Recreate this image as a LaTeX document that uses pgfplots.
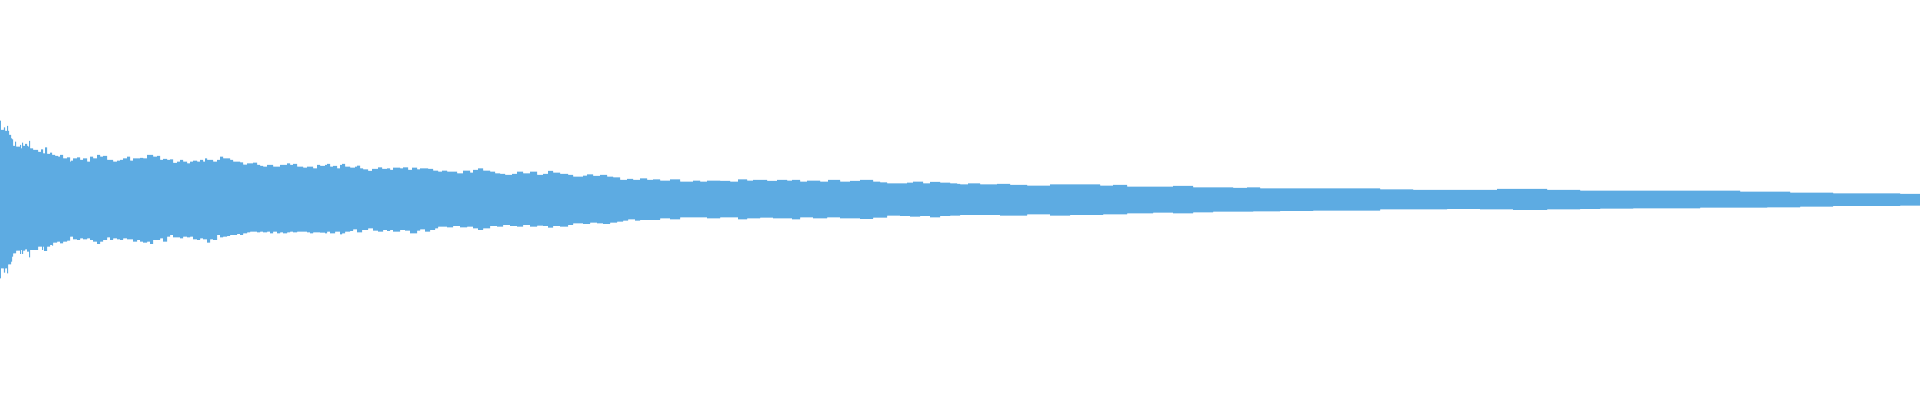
\documentclass[border=0pt]{standalone}
\usepackage{pgfplots}
\pgfplotsset{compat=1.18}
\usepackage{pgfplotstable}
\usepgfplotslibrary{fillbetween}
\definecolor{wave}{RGB}{93,171,226}

\pgfplotstableread{
x y
0 79.3
1 70
4 72.7
5 69
7 74
8 69
9 65
11 61.7
12 60.7
13 54
15 58.3
16 53.3
20 55
21 51.7
22 57.3
23 54
25 56
27 54
28 53.3
29 59
30 51.7
33 50
38 48
41 50.7
43 46.7
45 52.7
47 46
50 47.3
52 45
55 44
58 43.3
60 45
63 41.7
67 42.7
70 38.3
71 39.3
73 41.7
77 42.7
80 40
83 41.7
87 38.3
90 43.3
93 41.7
97 45
100 43.3
103 44
107 40
110 40
113 38.3
117 39.3
120 40
123 41.7
127 43.3
130 39.3
133 41.7
137 41.7
140 42
143 41.7
147 45
150 45
153 43.3
157 44
160 40
163 41
167 40
170 40.7
173 37
177 38.3
180 40
183 38.3
187 36.7
190 38.3
193 39.3
197 38.3
200 40
203 38.3
205 41.7
207 40
210 40
213 38.3
217 40
220 43.3
223 41.7
227 41.7
230 40
233 38.3
237 38.3
240 37.7
243 35.3
247 36.7
253 37.3
257 35
260 34
263 33.3
267 35
270 35
273 33.3
277 33.3
280 35
283 35
287 36.7
290 35
293 36
297 33.3
300 33.3
303 32.3
307 33.3
310 33.3
313 31.7
317 35
320 34
325 35
327 36
330 33.3
333 34
337 31.7
340 35
342 36
345 33.3
350 32.3
355 33.3
357 34.3
360 31.7
363 30.7
368 29
372 31
378 32.7
382 31
387 31.7
390 30
393 32.3
400 31.7
403 32.7
408 30
412 32.3
417 30.7
420 31.7
425 31.7
428 31
433 29.3
438 28.3
442 29.3
447 28.3
453 28.3
457 26.7
463 29.3
470 27.3
473 30
478 31.7
483 29.3
490 28.3
495 26.7
500 26
505 25
512 26
517 28.3
523 26.7
530 28.3
537 25
543 26
548 29
553 27.3
560 26
568 25
573 23.3
583 24.3
587 25.7
593 24
600 25
607 23.3
613 22.7
620 20
627 21
633 20
640 21.7
647 20
653 20.7
660 19.3
670 20.7
680 18.3
693 19.3
700 18.3
707 19.3
720 19
730 18.3
738 20.7
747 19.3
753 20
767 19
777 20
787 19.3
792 20
800 18.3
807 19.3
820 18.3
828 20
840 18.3
850 19
860 20
873 18.3
880 17.7
887 16.7
897 16.7
907 17.3
913 18.3
923 16.7
930 18
940 17.3
950 16.7
957 16
960 15.7
968 16.7
980 15.7
997 16
1010 15
1027 14.3
1050 15.7
1067 15.7
1087 15.7
1100 14.3
1113 15
1127 13.3
1147 13.3
1160 13.3
1173 14
1193 12.7
1213 12.7
1233 12
1247 12.7
1260 11.7
1280 11.7
1313 11.7
1347 11.7
1380 10.7
1413 10
1447 10
1480 10
1497 11
1520 11
1547 10
1580 9.3
1600 9.3
1633 9.3
1667 9.3
1700 9.3
1740 8.3
1767 8.3
1790 7.3
1833 6.7
1867 6.7
1900 6
1920 5.7
}\wavehigh

\pgfplotstableread{
x y
0 -78.3
1 -68.3
4 -72.7
5 -68.3
7 -73.3
8 -64.3
11 -61.7
12 -56.7
13 -53.3
16 -50.7
20 -54
21 -50
22 -54
23 -50.7
25 -49.3
27 -51.7
29 -57.3
30 -50
35 -50
38 -46.7
42 -50
43 -46.7
44 -51
47 -46.7
50 -45
52 -45.7
53 -42.7
57 -41.7
60 -43.3
63 -41.7
67 -40.7
70 -36.7
73 -39.3
77 -40
80 -38.3
83 -39.3
87 -38.3
90 -40
93 -41.7
97 -44
100 -41.7
103 -40
107 -37.3
110 -40
113 -38.3
117 -39.3
120 -40
123 -38.3
127 -39.3
133 -41.7
137 -40
140 -41.7
143 -42.7
147 -41.7
150 -44
153 -40
157 -40
160 -38.3
163 -41.7
167 -36.7
170 -35
173 -37.3
180 -38.3
183 -36.7
187 -37.3
190 -36.7
193 -39.3
197 -40
200 -38.3
203 -39.3
207 -42.7
210 -39.3
213 -40
217 -35
220 -37.3
223 -36.7
227 -36
230 -35
233 -35
237 -34
240 -35
243 -33.3
247 -32.3
250 -31.7
253 -31.7
257 -32.3
260 -31.7
263 -32.3
267 -31.7
270 -33.3
273 -31.7
277 -33.3
280 -32.3
283 -33.3
287 -32.3
290 -31.7
293 -32.3
297 -31.7
300 -31.7
303 -31.7
307 -32.3
310 -33.3
313 -32.3
320 -32.7
325 -33.3
327 -31.7
330 -33.3
335 -31.7
340 -34.3
342 -33.3
345 -31.7
350 -31
353 -29.3
357 -32.3
362 -30
368 -28.3
373 -30.7
378 -31.7
383 -30
387 -31
390 -30
393 -31.7
400 -30
405 -30.7
410 -33.3
417 -30.7
420 -29.3
425 -31.7
430 -30
435 -28.3
438 -26.7
447 -27.3
453 -26
460 -27.3
467 -26.7
473 -28.3
478 -30
483 -28.3
490 -26
497 -26.7
503 -25
510 -26
517 -26.7
523 -25
530 -26.7
537 -25.7
543 -26
548 -27.7
553 -26
560 -26.7
568 -25
573 -23.3
583 -24
590 -22.7
597 -23.3
603 -24
610 -22.7
617 -21.7
623 -20.7
628 -19.3
635 -20.7
640 -20
653 -20
660 -18.3
670 -19.3
680 -17.3
693 -17.3
707 -18.3
720 -17.3
738 -19.3
747 -18.3
760 -17.7
773 -18.3
792 -19.3
800 -17.3
813 -18.3
827 -17.3
840 -18.3
860 -19
873 -17.7
887 -15.7
900 -16
910 -16.7
920 -16
930 -17.3
940 -16
950 -15.7
960 -15
980 -15
1000 -15.7
1027 -14.3
1050 -15.7
1070 -15
1090 -15
1103 -14.3
1127 -13.3
1153 -12.7
1173 -13.3
1193 -12.3
1213 -11.7
1233 -11.7
1253 -11.3
1280 -11
1313 -10.7
1347 -10.7
1380 -9.3
1413 -9.3
1447 -9
1480 -9.3
1513 -10
1547 -9.3
1580 -9
1600 -8.7
1633 -8.3
1667 -8.3
1700 -7.7
1733 -7.7
1767 -7.3
1800 -6.7
1833 -6
1867 -6
1900 -5.7
1920 -5.7
}\wavelow

\begin{document}
\begin{tikzpicture}
\begin{axis}[
  width=19.2cm, height=4cm, scale only axis,
  xmin=0, xmax=1920, ymin=-200, ymax=200,
  hide axis,
]
\addplot[const plot, draw=none, name path=U] table {\wavehigh};
\addplot[const plot, draw=none, name path=L] table {\wavelow};
\addplot[fill=wave, draw=none] fill between[of=U and L];
\end{axis}
\path (current axis.south west) rectangle (current axis.north east);
\end{tikzpicture}
\end{document}
